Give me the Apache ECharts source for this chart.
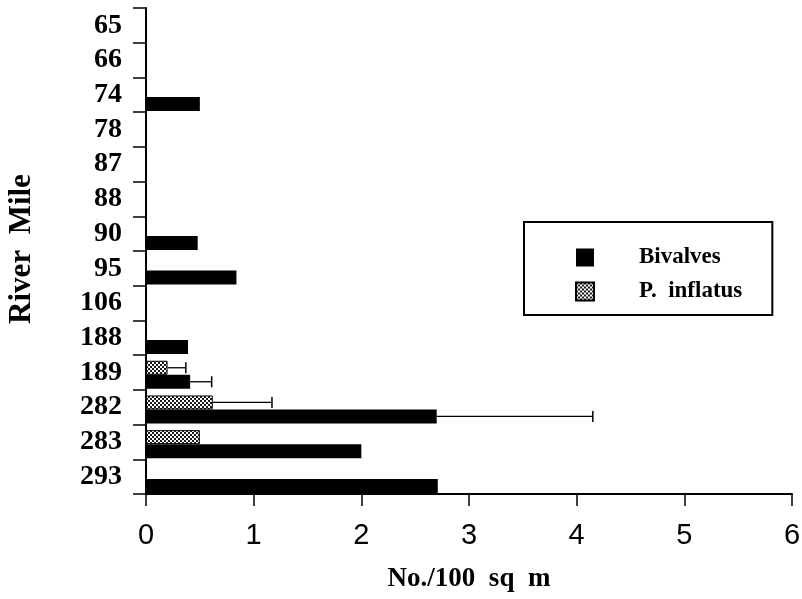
<!DOCTYPE html>
<html><head><meta charset="utf-8">
<script src="https://cdn.jsdelivr.net/npm/echarts@6/dist/echarts.min.js"></script>
<style>html,body{margin:0;padding:0;background:#fff}#c{width:802px;height:599px}</style>
</head><body><div id="c"></div>
<script>
const riverMiles = ['65','66','74','78','87','88','90','95','106','188','189','282','283','293'];
const bivalves   = [null,null,0.50,null,null,null,0.48,0.84,null,0.39,0.41,2.70,2.00,2.71];
const pInflatus  = [null,null,null,null,null,null,null,null,null,null,0.20,0.62,0.50,null];
const bivalvesUpper  = [null,null,null,null,null,null,null,null,null,null,0.61,4.15,null,null];
const pInflatusUpper = [null,null,null,null,null,null,null,null,null,null,0.37,1.17,null,null];
const xTicks = [0,1,2,3,4,5,6];

// stipple pattern (fine checker of dots)
const pc = document.createElement('canvas');
pc.width = 4; pc.height = 4;
const pctx = pc.getContext('2d');
pctx.fillStyle = '#fff'; pctx.fillRect(0,0,4,4);
pctx.fillStyle = '#1a1a1a'; pctx.fillRect(0,0,2,2); pctx.fillRect(2,2,2,2);
const stipple = {image: pc, repeat: 'repeat'};

const errData = [];
riverMiles.forEach((m,i)=>{
  if (bivalvesUpper[i] != null) errData.push([bivalvesUpper[i], i, bivalves[i], 1]);
  if (pInflatusUpper[i] != null) errData.push([pInflatusUpper[i], i, pInflatus[i], 0]);
});

const BW = 14, DW = 4.5;
const total = DW + 2*BW;
const offP = -total/2 + DW + BW/2;
const offB = -total/2 + DW + BW + BW/2;

const chart = echarts.init(document.getElementById('c'));
chart.setOption({
  animation: false,
  backgroundColor: '#fff',
  grid: {left: 146, right: 10, top: 8, bottom: 105, containLabel: false, outerBoundsMode: 'none'},
  legend: {
    data: ['Bivalves','P. inflatus'],
    orient: 'vertical',
    left: 524, top: 222,
    padding: [24, 30, 12, 51],
    itemGap: 11,
    itemWidth: 18, itemHeight: 18,
    icon: 'rect',
    borderColor: '#000', borderWidth: 2,
    textStyle: {fontFamily: 'Liberation Serif', fontWeight: 'bold', fontSize: 23, color: '#000', padding: [0,0,0,40]},
    formatter: n => n === 'P. inflatus' ? 'P.  inflatus' : n
  },
  xAxis: {
    type: 'value', min: 0, max: 6, interval: 1,
    splitLine: {show: false},
    axisLine: {show: true, lineStyle: {color: '#000', width: 2}},
    axisTick: {show: true, length: 12, lineStyle: {color: '#000', width: 1.5}},
    axisLabel: {margin: 27, fontFamily: 'Liberation Sans', fontSize: 29, color: '#000', formatter: v => String(v)},
    name: 'No./100  sq  m', nameLocation: 'middle', nameGap: 72,
    nameTextStyle: {fontFamily: 'Liberation Serif', fontWeight: 'bold', fontSize: 27, color: '#000'}
  },
  yAxis: {
    type: 'category', data: riverMiles, inverse: true,
    axisLine: {show: true, lineStyle: {color: '#000', width: 2}},
    axisTick: {show: true, interval: 0, length: 13, lineStyle: {color: '#000', width: 1.5}},
    axisLabel: {interval: 0, margin: 24, fontFamily: 'Liberation Serif', fontWeight: 'bold', fontSize: 28, lineHeight: 28, color: '#000', hideOverlap: false},
    name: 'River  Mile', nameLocation: 'middle', nameGap: 109, nameRotate: 90,
    nameTextStyle: {fontFamily: 'Liberation Serif', fontWeight: 'bold', fontSize: 31, color: '#000', padding: [0,0,0,4]}
  },
  series: [
    {name: 'spacer', type: 'bar', barWidth: DW, barGap: 0, data: [], silent: true},
    {name: 'P. inflatus', type: 'bar', barWidth: BW, barGap: 0, data: pInflatus,
     itemStyle: {color: stipple, borderColor: '#000', borderWidth: 1}},
    {name: 'Bivalves', type: 'bar', barWidth: BW, barGap: 0, data: bivalves,
     itemStyle: {color: '#000', borderColor: '#000', borderWidth: 0}},
    {name: 'err', type: 'custom', data: errData, silent: true,
     renderItem: (params, api) => {
       const cat = api.value(1);
       const s = api.coord([api.value(2), cat]);
       const e = api.coord([api.value(0), cat]);
       const y = s[1] + (api.value(3) === 1 ? offB : offP);
       return {type: 'group', children: [
         {type: 'line', shape: {x1: s[0], y1: y, x2: e[0], y2: y}, style: {stroke: '#000', lineWidth: 1.3}},
         {type: 'line', shape: {x1: e[0], y1: y-5.5, x2: e[0], y2: y+5.5}, style: {stroke: '#000', lineWidth: 1.5}}
       ]};
     }}
  ]
});
</script></body></html>
